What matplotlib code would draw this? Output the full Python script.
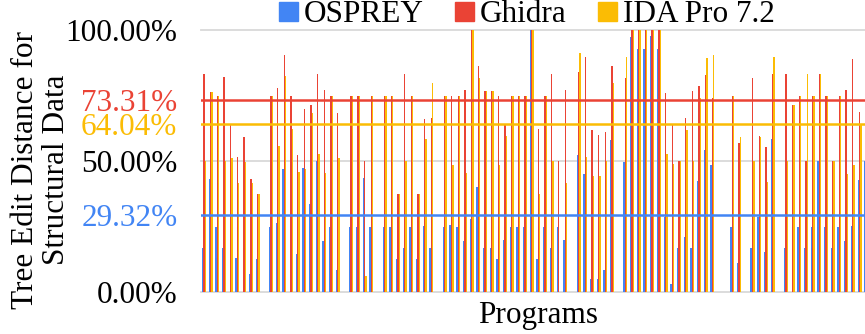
import numpy as np
import matplotlib
matplotlib.use("Agg")
import matplotlib.pyplot as plt
import matplotlib.transforms as mtransforms
from matplotlib.patches import Patch

plt.rcParams['font.family'] = ['Liberation Serif', 'DejaVu Serif']

# per-program tree edit distance (%)
osprey = [16.7, 43.2, 25, 16.7, 0, 13.1, 0, 6.8, 12.5, 0,
          25, 26.2, 46.9, 0, 14.6, 47.4, 33.5, 50, 19.4, 25,
          8.3, 0, 25, 25, 43.7, 25, 0, 25, 25, 12.5,
          16.7, 25, 12.5, 25.2, 16.7, 0, 25, 25.7, 25, 19.4,
          27.8, 40, 16.7, 16.7, 12.5, 20, 25, 25, 25, 100,
          12.5, 25, 16.7, 25, 20, 0, 52.2, 45.2, 5.1, 5.1,
          8.3, 58, 0, 49.6, 97.2, 92.9, 92.9, 97.7, 92.9, 28.8,
          2.9, 16.7, 21, 16.7, 42.2, 54.3, 48.4, 0, 0, 25,
          11, 0, 16.7, 28.8, 15.2, 58.5, 0, 16.7, 0, 25,
          16.7, 25, 50, 25, 16.7, 25, 19.4, 25.2, 42.7, 50]
ghidra = [83.3, 76.4, 75, 81.9, 64.3, 51.6, 59, 43.2, 37.5, 0,
          75, 77.7, 90.3, 75, 52.2, 69.7, 71.2, 83.3, 77.1, 75,
          68.2, 0, 75, 75, 50, 75, 0, 75, 75, 37.5,
          83.3, 75, 37.5, 66, 66.5, 0, 75, 75, 75, 77.1,
          100, 86.1, 76.6, 76.6, 75, 63.8, 75, 75, 75, 100,
          62.2, 75, 83.3, 50, 77.1, 0, 83.9, 89.8, 61.7, 60.1,
          61.1, 86.1, 0, 81.8, 100, 100, 100, 100, 100, 76,
          64.3, 50, 66.5, 76.6, 78.6, 82.8, 73.9, 0, 0, 75,
          56.9, 0, 81.8, 59.6, 55.3, 83.3, 0, 83.3, 71.2, 75,
          50, 75, 83.3, 75, 50, 75, 77.1, 88.8, 68.7, 75]
ida = [50, 76.4, 75, 50, 51, 41.5, 49.7, 41.5, 37.5, 0,
       75, 55.9, 82.4, 62.2, 45.9, 46.9, 68.2, 52.6, 45.5, 75,
       51, 0, 75, 75, 6.1, 75, 0, 75, 75, 37.5,
       50, 75, 37.5, 58.5, 79.7, 0, 75, 48.4, 75, 45.5,
       100, 81.8, 76.6, 76.6, 48.4, 59.6, 75, 75, 75, 100,
       37.5, 75, 50, 0, 41.5, 0, 91.3, 51.6, 44.2, 44.2,
       50, 79.7, 0, 89.7, 100, 100, 100, 100, 100, 52.7,
       49, 50, 61.7, 50, 73.9, 89.2, 90.3, 0, 0, 75,
       59, 0, 50, 59, 42, 89.7, 0, 50, 71.2, 75,
       83.3, 75, 83.3, 75, 50, 75, 45.2, 48.4, 63.8, 75]

series = ["OSPREY", "Ghidra", "IDA Pro 7.2"]
colors = ["#4285F4", "#EA4335", "#FBBC04"]
means = [29.32, 73.31, 64.04]
mean_labels = ["29.32%", "73.31%", "64.04%"]

FS = 22.5

fig = plt.figure(figsize=(8.65, 3.34), dpi=100)
ax = fig.add_axes([201 / 865, 1 - 292 / 334, 664 / 865, 262 / 334])

x = np.arange(len(osprey))
w = 0.2
for i, (vals, c) in enumerate(zip([osprey, ghidra, ida], colors)):
    ax.bar(x + (i - 1) * w, vals, width=w, color=c, linewidth=0, zorder=2)

for g in [0, 50, 100]:
    ax.axhline(g, color="#d9d9d9", lw=1.3, zorder=1, clip_on=False)
for m, c in zip(means, colors):
    ax.axhline(m, color=c, lw=1.8, zorder=3)

ax.set_xlim(-0.45, 98.82)
ax.set_ylim(0, 100)
ax.set_xticks([])
ticks = [0, 50, 100] + means
labels = ["0.00%", "50.00%", "100.00%"] + mean_labels
ax.set_yticks(ticks)
ax.set_yticklabels(labels, fontsize=FS)
for lab, c in zip(ax.get_yticklabels(), ["black"] * 3 + colors):
    lab.set_color(c)
# the 64.04% label sits a little below its line so it clears 73.31%
lab = ax.get_yticklabels()[-1]
lab.set_transform(lab.get_transform() +
                  mtransforms.ScaledTranslation(0, -3 / 100, fig.dpi_scale_trans))
ax.tick_params(axis="y", length=0, pad=17)
for s in ax.spines.values():
    s.set_visible(False)

handles = [Patch(color=c, label=s) for s, c in zip(series, colors)]
fig.legend(handles=handles, loc="center", bbox_to_anchor=(527 / 865, 1 - 15 / 334),
           ncol=3, frameon=False, fontsize=FS, handlelength=0.6, handleheight=0.6,
           handletextpad=0.2, columnspacing=1.0, borderpad=0)

fig.text(41 / 865, 1 - 170 / 334, "Tree Edit Distance for\nStructural Data",
         rotation=90, ha="center", va="center", fontsize=FS,
         multialignment="center", linespacing=1.05)
fig.text(538 / 865, 1 - 316 / 334, "Programs", ha="center", va="center", fontsize=FS)

fig.savefig("out.png", dpi=100)
